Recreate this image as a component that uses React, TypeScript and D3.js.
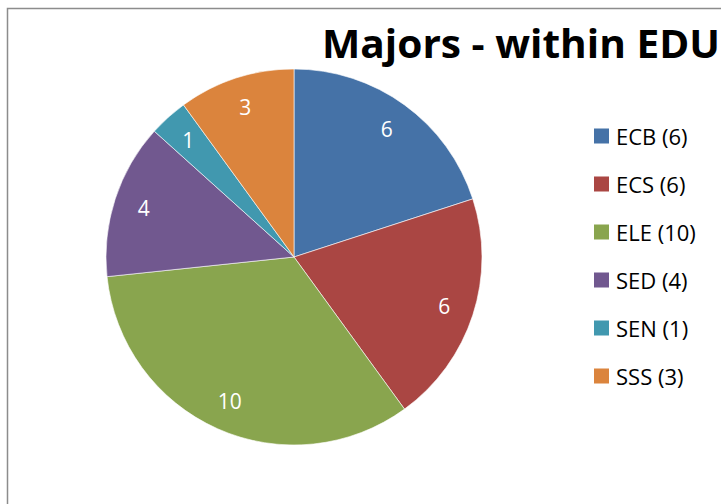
import React, { useEffect, useRef } from 'react';
import * as d3 from 'd3';

const majors = ['ECB', 'ECS', 'ELE', 'SED', 'SEN', 'SSS'];
const counts = [6, 6, 10, 4, 1, 3];
const colors = ['#4572A7', '#AA4643', '#89A54E', '#71588F', '#4198AF', '#DB843D'];
const title = 'Majors - within EDU';

const W = 721;
const H = 504;

const App: React.FC = () => {
  const svgRef = useRef<SVGSVGElement>(null);

  useEffect(() => {
    if (!svgRef.current) return;
    const svg = d3.select(svgRef.current);
    svg.selectAll('*').remove();

    svg.append('rect').attr('width', W).attr('height', H).attr('fill', '#fff');

    // chart border (runs past the visible area on the right and bottom)
    svg.append('rect')
      .attr('x', 7.5).attr('y', 8.5)
      .attr('width', W + 20).attr('height', H + 20)
      .attr('fill', 'none').attr('stroke', '#8c8c8c').attr('stroke-width', 1.5);

    const cx = 294, cy = 257, r = 188;
    const data = majors.map((m, i) => ({ name: m, value: counts[i], color: colors[i] }));

    const pie = d3.pie<typeof data[0]>().value(d => d.value).sort(null);
    const arcs = pie(data);
    const arc = d3.arc<d3.PieArcDatum<typeof data[0]>>().innerRadius(0).outerRadius(r);
    const labelArc = d3.arc<d3.PieArcDatum<typeof data[0]>>().innerRadius(158).outerRadius(158);

    const g = svg.append('g').attr('transform', `translate(${cx},${cy})`);
    g.selectAll('path')
      .data(arcs)
      .join('path')
      .attr('d', arc)
      .attr('fill', d => d.data.color)
      .attr('stroke', '#fff')
      .attr('stroke-width', 0.6);

    g.selectAll('text')
      .data(arcs)
      .join('text')
      .attr('transform', d => `translate(${labelArc.centroid(d)})`)
      .attr('text-anchor', 'middle')
      .attr('dominant-baseline', 'central')
      .attr('fill', '#fff')
      .attr('font-family', 'Open Sans, sans-serif')
      .attr('font-size', 21)
      .text(d => d.data.value);

    // title
    svg.append('text')
      .attr('x', 322).attr('y', 58)
      .attr('font-family', 'Open Sans, sans-serif')
      .attr('font-weight', 'bold')
      .attr('font-size', 39)
      .attr('textLength', 398)
      .attr('lengthAdjust', 'spacingAndGlyphs')
      .attr('fill', '#000')
      .text(title);

    // legend
    const y = d3.scalePoint<string>().domain(majors).range([136, 376]);
    const legend = svg.append('g');
    const item = legend.selectAll('g')
      .data(data)
      .join('g')
      .attr('transform', d => `translate(594,${y(d.name)})`);
    item.append('rect')
      .attr('x', 0).attr('y', -7.5)
      .attr('width', 15).attr('height', 15)
      .attr('fill', d => d.color);
    item.append('text')
      .attr('x', 22).attr('y', 0)
      .attr('dominant-baseline', 'central')
      .attr('font-family', 'Open Sans, sans-serif')
      .attr('font-size', 22)
      .attr('fill', '#000')
      .text(d => `${d.name} (${d.value})`);
  }, []);

  return (
    <svg
      ref={svgRef}
      width={W}
      height={H}
      style={{ position: 'absolute', left: 0, top: 0, display: 'block' }}
    />
  );
};

export default App;
